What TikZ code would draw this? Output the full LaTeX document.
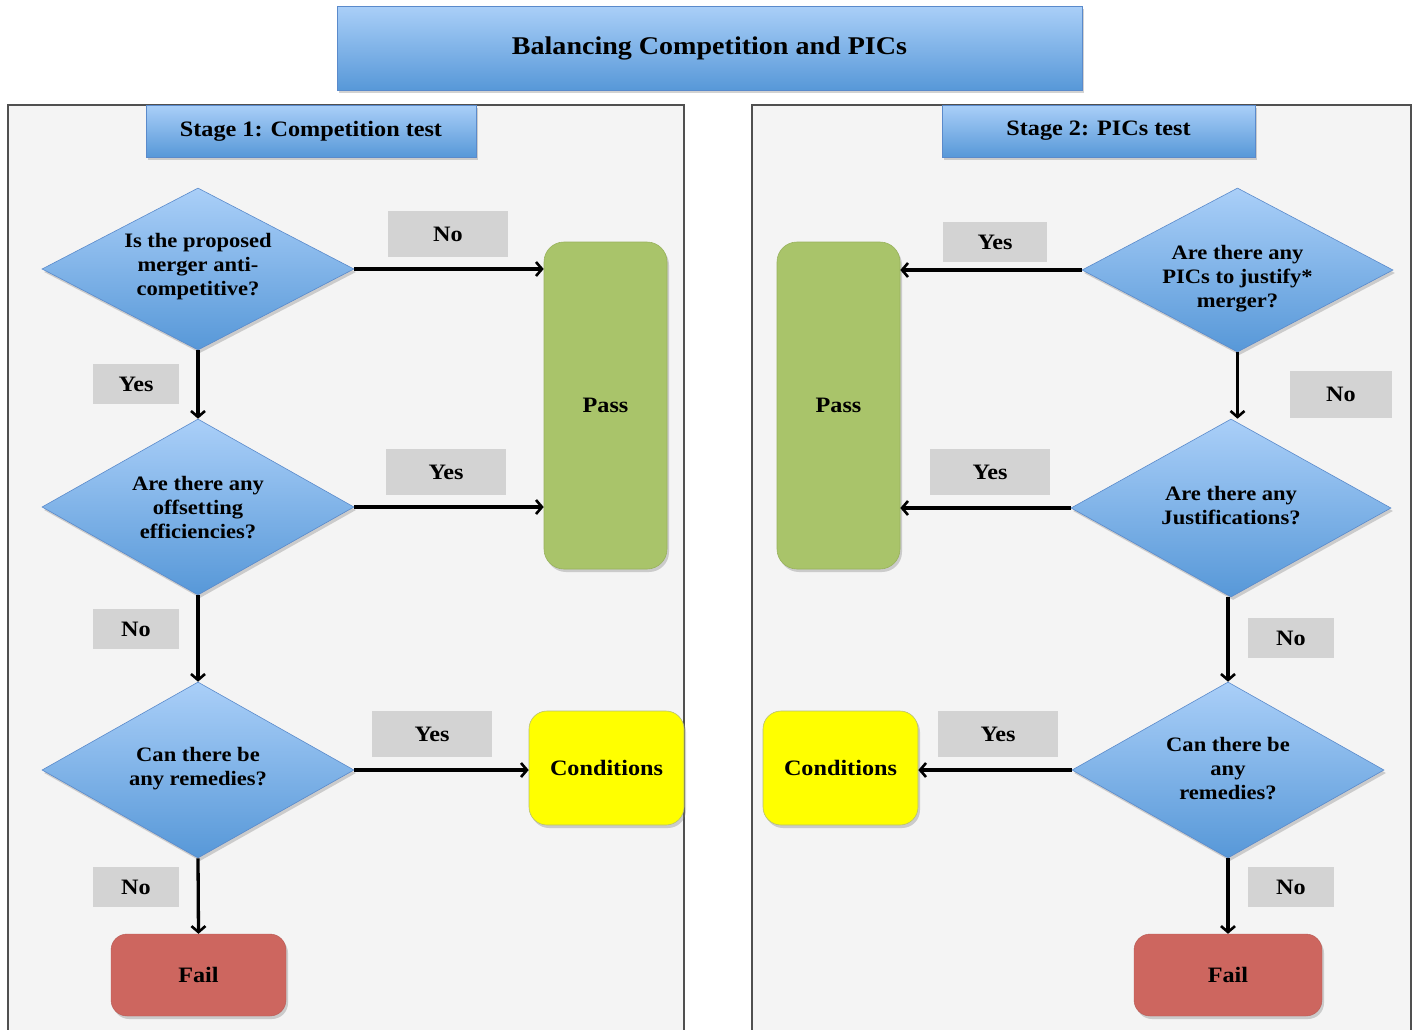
\documentclass[tikz,border=0pt]{standalone}
\usepackage{fontspec}
\setmainfont{Liberation Serif}[FakeStretch=1.1]
\usetikzlibrary{shapes.geometric,arrows.meta,shadows}
\definecolor{panelfill}{HTML}{F4F4F4}
\definecolor{panelline}{HTML}{505050}
\definecolor{bluetop}{HTML}{AACFF8}
\definecolor{bluebot}{HTML}{5798D8}
\definecolor{blueline}{HTML}{5A8ACB}
\definecolor{passgreen}{HTML}{A9C46A}
\definecolor{passline}{HTML}{98B25C}
\definecolor{condyellow}{HTML}{FFFF00}
\definecolor{condline}{HTML}{B8C070}
\definecolor{failred}{HTML}{CD665F}
\definecolor{labgray}{HTML}{D3D3D3}
\tikzset{
  shad/.style={drop shadow={shadow xshift=2pt,shadow yshift=-3pt,opacity=0.35}},
  bluebox/.style={rectangle,draw=blueline,line width=0.6pt,top color=bluetop,bottom color=bluebot,shad,font=\bfseries\fontsize{22}{24}\selectfont},
  dia/.style={diamond,draw=blueline,line width=0.6pt,top color=bluetop,bottom color=bluebot,inner sep=0pt,shad},
  dtxt/.style={align=center,font=\bfseries\fontsize{20.5}{24}\selectfont,inner sep=0pt},
  passbox/.style={rectangle,rounded corners=20pt,fill=passgreen,draw=passline,line width=0.6pt,shad,font=\bfseries\fontsize{22}{24}\selectfont,minimum width=123pt,minimum height=327pt},
  condbox/.style={rectangle,rounded corners=18pt,fill=condyellow,draw=condline,line width=0.6pt,shad,font=\bfseries\fontsize{22}{24}\selectfont,minimum width=155pt,minimum height=114pt},
  failbox/.style={rectangle,rounded corners=16pt,fill=failred,draw=failred!90!black,line width=0.4pt,shad,font=\bfseries\fontsize{22}{24}\selectfont,minimum height=82pt},
  lab/.style={rectangle,fill=labgray,inner sep=0pt,font=\bfseries\fontsize{22}{24}\selectfont},
  labw/.style={lab,minimum width=120pt,minimum height=46pt},
  labs/.style={lab,minimum width=86pt,minimum height=40pt},
  conn/.style={line width=3.3pt,-{Straight Barb[length=6pt,width=14pt,line width=2.6pt]}},
  panel/.style={rectangle,fill=panelfill,draw=panelline,line width=1.2pt}
}
\begin{document}
\begin{tikzpicture}[x=1pt,y=-1pt]
\useasboundingbox (0,0) rectangle (1416,1029);
\fill[white] (0,0) rectangle (1416,1029);
% panels
\draw[panel] (8,1035) -- (8,105) -- (684,105) -- (684,1035);
\draw[panel] (752,1035) -- (752,105) -- (1411,105) -- (1411,1035);
% title
\node[bluebox,minimum width=745pt,minimum height=84pt,font=\bfseries\fontsize{25.5}{28}\selectfont] (title) at (709.5,48) {Balancing Competition and PICs};
\node[bluebox,minimum width=330pt,minimum height=52pt] (s1) at (311,131) {Stage 1: Competition test};
\node[bluebox,minimum width=313pt,minimum height=52pt] (s2) at (1098.5,131) {Stage 2: PICs test};
% left column
\node[dia,minimum width=312pt,minimum height=162pt] (a1) at (198,269) {};
\node[dtxt] (a1t) at (198,267) {Is the proposed\\merger anti-\\competitive?};
\node[dia,minimum width=312pt,minimum height=176pt] (a2) at (198,507) {};
\node[dtxt] (a2t) at (198,508) {Are there any\\offsetting\\efficiencies?};
\node[dia,minimum width=312pt,minimum height=176pt] (a3) at (198,770) {};
\node[dtxt] (a3t) at (198,769) {Can there be\\any remedies?};
\node[passbox] (pa) at (605.5,405.5) {Pass};
\node[condbox] (ca) at (606.5,768) {Conditions};
\node[failbox,minimum width=175pt] (fa) at (198.5,975) {Fail};
% right column
\node[dia,minimum width=311pt,minimum height=164pt] (b1) at (1237.5,270) {};
\node[dtxt] (b1t) at (1237.5,279) {Are there any\\PICs to justify*\\merger?};
\node[dia,minimum width=320pt,minimum height=178pt] (b2) at (1231,508) {};
\node[dtxt] (b2t) at (1231,506) {Are there any\\Justifications?};
\node[dia,minimum width=312pt,minimum height=176pt] (b3) at (1228,770) {};
\node[dtxt] (b3t) at (1228,769) {Can there be\\any\\remedies?};
\node[passbox] (pb) at (838.5,405.5) {Pass};
\node[condbox] (cb) at (840.5,768) {Conditions};
\node[failbox,minimum width=188pt] (fb) at (1228,975) {Fail};
% labels
\node[labw] (l1) at (448,234) {No};
\node[labs] (l2) at (136,384) {Yes};
\node[labw] (l3) at (446,472) {Yes};
\node[labs] (l4) at (136,629) {No};
\node[labw] (l5) at (432,734) {Yes};
\node[labs] (l6) at (136,887) {No};
\node[lab,minimum width=104pt,minimum height=40pt] (r1) at (995,242) {Yes};
\node[lab,minimum width=102pt,minimum height=47pt] (r2) at (1341,394) {No};
\node[labw] (r3) at (990,472) {Yes};
\node[labs] (r4) at (1291,638) {No};
\node[labw] (r5) at (998,734) {Yes};
\node[labs] (r6) at (1291,887) {No};
% connectors left
\draw[conn] (a1.east) -- (a1.east -| pa.west);
\draw[conn] (a1.south) -- (a2.north);
\draw[conn] (a2.east) -- (a2.east -| pa.west);
\draw[conn] (a2.south) -- (a3.north);
\draw[conn] (a3.east) -- (a3.east -| ca.west);
\draw[conn] (a3.south) -- (fa.north);
% connectors right
\draw[conn] (b1.west) -- (b1.west -| pb.east);
\draw[conn] (b1.south) -- (b1.south |- b2.north);
\draw[conn] (b2.west) -- (b2.west -| pb.east);
\draw[conn] (b3.north |- b2.south) -- (b3.north);
\draw[conn] (b3.west) -- (b3.west -| cb.east);
\draw[conn] (b3.south) -- (fb.north);
\end{tikzpicture}
\end{document}
